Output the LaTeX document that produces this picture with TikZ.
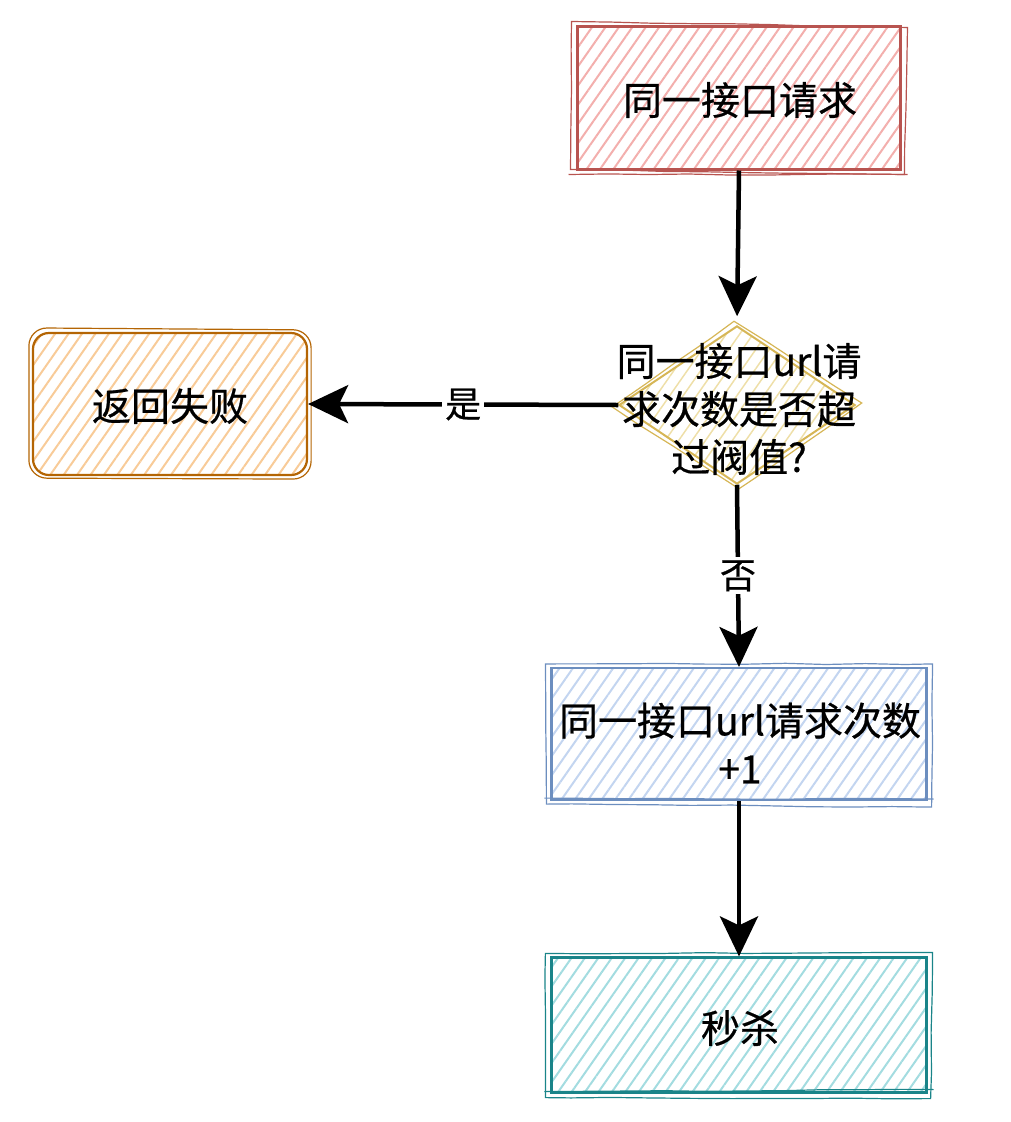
\documentclass[tikz,border=0pt]{standalone}
\usepackage{fontspec}
\setmainfont{Noto Sans CJK SC}[FakeBold=0.6]
\usetikzlibrary{patterns.meta,shapes.geometric,arrows.meta,decorations.pathmorphing}
\definecolor{redS}{HTML}{B85450}\definecolor{redH}{HTML}{F3AFAD}
\definecolor{orgS}{HTML}{B46504}\definecolor{orgH}{HTML}{F8CB98}
\definecolor{bluS}{HTML}{6C8EBF}\definecolor{bluH}{HTML}{C3D5F0}
\definecolor{tealS}{HTML}{1A8489}\definecolor{tealH}{HTML}{A3DCE0}
\definecolor{yelS}{HTML}{D6B656}\definecolor{yelH}{HTML}{EEDFA8}
\pgfmathsetseed{7}
\tikzset{
  box/.style={draw=#1S, line width=2.2pt, inner sep=0pt,
    pattern={Lines[angle=55,distance=11pt,line width=2pt]}, pattern color=#1H},
  sk/.style={draw=#1S, line width=1.2pt, decorate, decoration={random steps,segment length=40pt,amplitude=0.6pt}},
  txt/.style={font=\fontsize{39}{48}\selectfont, align=center, text=black},
  arr/.style={line width=4.5pt, -{Stealth[length=40pt,width=38pt,inset=9pt]}},
  lbl/.style={font=\fontsize{36}{40}\selectfont, fill=white, inner sep=3pt},
}
\begin{document}
\begin{tikzpicture}[x=1pt,y=-1pt]
\useasboundingbox (0,0) rectangle (1010,1122);
% boxes
\node[box=red, minimum width=323pt, minimum height=143pt] (r) at (739,98) {};
\node[box=org, rounded corners=16pt, minimum width=274pt, minimum height=142pt] (o) at (170,404) {};
\node[box=blu, minimum width=375pt, minimum height=132pt] (b) at (739,734) {};
\node[box=teal, minimum width=375pt, minimum height=135pt] (t) at (739,1025) {};
\node[diamond, draw=yelS, line width=2pt, inner sep=0pt, minimum width=236pt, minimum height=158pt,
  pattern={Lines[angle=55,distance=11pt,line width=1.5pt]}, pattern color=yelH] (d) at (737,405) {};
% sketchy second outlines
\draw[sk=red] ([shift={(-5,-4)}]r.north west) -- ([shift={(6,2)}]r.north east) -- ([shift={(3,4)}]r.south east) -- ([shift={(-6,-1)}]r.south west) -- cycle;
\draw[sk=red] ([shift={(-8,4)}]r.south west) -- ([shift={(6,4)}]r.south east);
\draw[draw=orgS, line width=1.2pt, rounded corners=18pt] ([shift={(-3,-4)}]o.north west) -- ([shift={(3,-2)}]o.north east) -- ([shift={(3,3)}]o.south east) -- ([shift={(-3,2)}]o.south west) -- cycle;
\draw[sk=blu] ([shift={(-5,-3)}]b.north west) -- ([shift={(5,-3)}]b.north east) -- ([shift={(4,6)}]b.south east) -- ([shift={(-4,3)}]b.south west) -- cycle;
\draw[sk=blu] ([shift={(-6,-3)}]b.south west) -- ([shift={(6,-2)}]b.south east);
\draw[sk=teal] ([shift={(-5,-3)}]t.north west) -- ([shift={(5,-4)}]t.north east) -- ([shift={(3,5)}]t.south east) -- ([shift={(-5,4)}]t.south west) -- cycle;
\draw[sk=teal] ([shift={(-6,-2)}]t.south west) -- ([shift={(6,-4)}]t.south east);
\draw[sk=yel] ([shift={(-3,-4)}]d.north) -- ([shift={(6,-2)}]d.east) -- ([shift={(2,4)}]d.south) -- ([shift={(-6,2)}]d.west) -- cycle;
% texts
\node[txt] (rt) at (740,100) {同一接口请求};
\node[txt] (ot) at (170,406) {返回失败};
\node[txt] (dt) at (739,409) {同一接口url请\\求次数是否超\\过阀值?};
\node[txt] (bt) at (740,743) {同一接口url请求次数\\+1};
\node[txt] (tt) at (740,1028) {秒杀};
% connectors
\draw[arr, shorten >=9pt] (r.south) -- (d.north);
\draw[arr] (d.west) -- node[lbl] (ly) {是} (o.east);
\draw[arr] (d.south) -- node[lbl, pos=0.5] (ln) {否} (b.north);
\draw[arr] (b.south) -- (t.north);
\end{tikzpicture}
\end{document}
